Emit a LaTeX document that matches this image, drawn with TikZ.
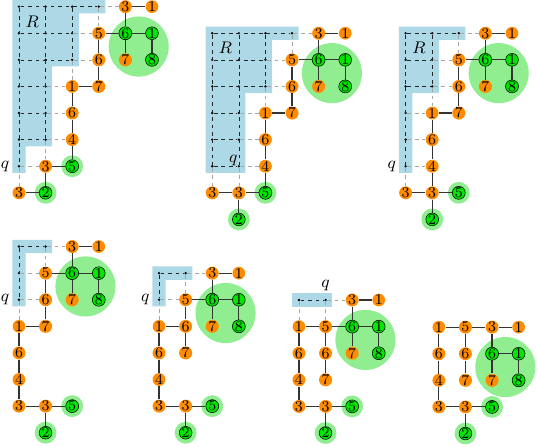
\documentclass[tikz,border=0pt]{standalone}
\usepackage{tikz}
\definecolor{vorange}{RGB}{255,140,0}
\definecolor{vgreen}{RGB}{0,230,0}
\definecolor{halo}{RGB}{144,238,144}
\definecolor{regblue}{RGB}{173,216,230}

\begin{document}
\begin{tikzpicture}[x=.5cm,y=-.5cm,font=\footnotesize]
\tikzset{ov/.style={circle,fill=vorange,inner sep=0,minimum size=6.3pt},
 gv/.style={circle,draw=black,line width=.3pt,fill=vgreen,inner sep=0,minimum size=6.3pt},
 gdot/.style={circle,fill=black,inner sep=0,minimum size=1.4pt},
 treeedge/.style={line width=.6pt,black!80},
 gridline/.style={dash pattern=on 2pt off 2pt,line width=.35pt,black!85},
 linkline/.style={dash pattern=on 2pt off 2pt,line width=.35pt,black!35},
 lab/.style={inner sep=0,font=\small}}
\useasboundingbox (0,0) rectangle (20.19,16.77);

% step 1
\begin{scope}[shift={(.714,.25)},name prefix=a-]
\fill[regblue] (-.25,-.25) -| (3.25,.25) -| (2.25,2.25) -| (1.25,5.25) -| (.25,6.25) -- (-.25,6.25) -- cycle;
\fill[halo] (4.5,1.5) circle (1.13) (2,6) circle (.41) (1,7) circle (.41);
\foreach \x/\y in {0/0,1/0,2/0,3/0,0/1,1/1,2/1,0/2,1/2,2/2,0/3,1/3,0/4,1/4,0/5,1/5,0/6}
 \node[gdot] (d\x\y) at (\x,\y) {};
\foreach \n/\t/\x/\y/\s in {t3/3/4/0/ov,t1/1/5/0/ov,v5/5/3/1/ov,g6/6/4/1/gv,g1/1/5/1/gv,v6/6/3/2/ov,w7/7/4/2/ov,g8/8/5/2/gv,
 u1/1/2/3/ov,u7/7/3/3/ov,u6/6/2/4/ov,u4/4/2/5/ov,c3/3/1/6/ov,g5/5/2/6/gv,b3/3/0/7/ov,g2/2/1/7/gv}
 \node[\s] (\n) at (\x,\y) {\t};
\draw[gridline] (d00)--(d30) (d01)--(d21) (d02)--(d22) (d03)--(d13) (d04)--(d14) (d05)--(d15)
 (d00)--(d06) (d10)--(d15) (d20)--(d22);
\draw[linkline] (d30)--(t3) (d21)--(v5) (d22)--(v6) (d13)--(u1) (d14)--(u6) (d15)--(u4)
 (d06)--(c3) (d06)--(b3) (d15)--(c3) (d22)--(u1) (d30)--(v5);
\draw[treeedge] \foreach \a/\b in {t3/t1,t3/g6,v5/g6,g6/g1,g6/w7,g1/g8,v5/v6,v6/u7,u7/u1,u1/u6,u6/u4,u4/g5,g5/c3,c3/g2,g2/b3}{(\a)--(\b)};
\node[lab] (r) at (.5,.55) {$R$};
\node[lab,left=5pt] (q) at (d06) {$q$};
\end{scope}

% step 2
\begin{scope}[shift={(7.98,1.25)},name prefix=b-]
\fill[regblue] (-.25,-.25) -| (3.25,.25) -| (2.25,2.25) -| (1.25,5.25) -- (-.25,5.25) -- cycle;
\fill[halo] (4.5,1.5) circle (1.13) (2,6) circle (.41) (1,7) circle (.41);
\foreach \x/\y in {0/0,1/0,2/0,3/0,0/1,1/1,2/1,0/2,1/2,2/2,0/3,1/3,0/4,1/4,0/5,1/5}
 \node[gdot] (d\x\y) at (\x,\y) {};
\foreach \n/\t/\x/\y/\s in {t3/3/4/0/ov,t1/1/5/0/ov,v5/5/3/1/ov,g6/6/4/1/gv,g1/1/5/1/gv,v6/6/3/2/ov,w7/7/4/2/ov,g8/8/5/2/gv,
 u1/1/2/3/ov,u7/7/3/3/ov,u6/6/2/4/ov,u4/4/2/5/ov,b3/3/0/6/ov,c3/3/1/6/ov,g5/5/2/6/gv,g2/2/1/7/gv}
 \node[\s] (\n) at (\x,\y) {\t};
\draw[gridline] (d00)--(d30) (d01)--(d21) (d02)--(d22) (d03)--(d13) (d04)--(d14) (d05)--(d15)
 (d00)--(d05) (d10)--(d15) (d20)--(d22);
\draw[linkline] (d30)--(t3) (d21)--(v5) (d22)--(v6) (d13)--(u1) (d14)--(u6) (d15)--(u4)
 (d05)--(b3) (d15)--(c3) (d22)--(u1) (d30)--(v5);
\draw[treeedge] \foreach \a/\b in {t3/t1,t3/g6,v5/g6,g6/g1,g6/w7,g1/g8,v5/v6,v6/u7,u7/u1,u1/u6,u6/u4,u4/g5,g5/c3,c3/b3,c3/g2}{(\a)--(\b)};
\node[lab] (r) at (.5,.55) {$R$};
\node[lab,xshift=-3pt,yshift=3pt] (q) at (d15) {$q$};
\end{scope}

% step 3
\begin{scope}[shift={(15.25,1.25)},name prefix=c-]
\fill[regblue] (-.25,-.25) -| (2.25,.25) -| (1.25,2.25) -| (.25,5.25) -- (-.25,5.25) -- cycle;
\fill[halo] (3.5,1.5) circle (1.13) (2,6) circle (.41) (1,7) circle (.41);
\foreach \x/\y in {0/0,1/0,2/0,0/1,1/1,0/2,1/2,0/3,0/4,0/5}
 \node[gdot] (d\x\y) at (\x,\y) {};
\foreach \n/\t/\x/\y/\s in {t3/3/3/0/ov,t1/1/4/0/ov,v5/5/2/1/ov,g6/6/3/1/gv,g1/1/4/1/gv,v6/6/2/2/ov,w7/7/3/2/ov,g8/8/4/2/gv,
 u1/1/1/3/ov,u7/7/2/3/ov,u6/6/1/4/ov,u4/4/1/5/ov,b3/3/0/6/ov,c3/3/1/6/ov,g5/5/2/6/gv,g2/2/1/7/gv}
 \node[\s] (\n) at (\x,\y) {\t};
\draw[gridline] (d00)--(d20) (d01)--(d11) (d02)--(d12) (d00)--(d05) (d10)--(d12);
\draw[linkline] (d20)--(t3) (d11)--(v5) (d12)--(v6) (d03)--(u1) (d04)--(u6) (d05)--(u4)
 (d05)--(b3) (d12)--(u1) (d20)--(v5);
\draw[treeedge] \foreach \a/\b in {t3/t1,t3/g6,v5/g6,g6/g1,g6/w7,g1/g8,v5/v6,v6/u7,u7/u1,u1/u6,u6/u4,u4/c3,c3/b3,c3/g5,c3/g2}{(\a)--(\b)};
\node[lab] (r) at (.5,.55) {$R$};
\node[lab,left=5pt] (q) at (d05) {$q$};
\end{scope}

% step 4
\begin{scope}[shift={(.714,9.27)},name prefix=d-]
\fill[regblue] (-.25,-.25) -| (1.25,.25) -| (.25,2.25) -- (-.25,2.25) -- cycle;
\fill[halo] (2.5,1.5) circle (1.13) (2,6) circle (.41) (1,7) circle (.41);
\foreach \x/\y in {0/0,1/0,0/1,0/2}
 \node[gdot] (d\x\y) at (\x,\y) {};
\foreach \n/\t/\x/\y/\s in {t3/3/2/0/ov,t1/1/3/0/ov,v5/5/1/1/ov,g6/6/2/1/gv,g1/1/3/1/gv,v6/6/1/2/ov,w7/7/2/2/ov,g8/8/3/2/gv,
 u1/1/0/3/ov,u7/7/1/3/ov,u6/6/0/4/ov,u4/4/0/5/ov,b3/3/0/6/ov,c3/3/1/6/ov,g5/5/2/6/gv,g2/2/1/7/gv}
 \node[\s] (\n) at (\x,\y) {\t};
\draw[gridline] (d00)--(d10) (d00)--(d02);
\draw[linkline] (d10)--(t3) (d01)--(v5) (d02)--(v6) (d02)--(u1) (d10)--(v5);
\draw[treeedge] \foreach \a/\b in {t3/t1,t3/g6,v5/g6,g6/g1,g6/w7,g1/g8,v5/v6,v6/u7,u7/u1,u1/u6,u6/u4,u4/b3,b3/c3,c3/g5,c3/g2}{(\a)--(\b)};
\node[lab,left=5pt] (q) at (d02) {$q$};
\end{scope}

% step 5
\begin{scope}[shift={(5.98,10.27)},name prefix=e-]
\fill[regblue] (-.25,-.25) -| (1.25,.25) -| (.25,1.25) -- (-.25,1.25) -- cycle;
\fill[halo] (2.5,1.5) circle (1.13) (2,5) circle (.41) (1,6) circle (.41);
\foreach \x/\y in {0/0,1/0,0/1}
 \node[gdot] (d\x\y) at (\x,\y) {};
\foreach \n/\t/\x/\y/\s in {t3/3/2/0/ov,t1/1/3/0/ov,v5/5/1/1/ov,g6/6/2/1/gv,g1/1/3/1/gv,u1/1/0/2/ov,v6/6/1/2/ov,w7/7/2/2/ov,g8/8/3/2/gv,
 u6/6/0/3/ov,u7/7/1/3/ov,u4/4/0/4/ov,b3/3/0/5/ov,c3/3/1/5/ov,g5/5/2/5/gv,g2/2/1/6/gv}
 \node[\s] (\n) at (\x,\y) {\t};
\draw[gridline] (d00)--(d10) (d00)--(d01);
\draw[linkline] (d10)--(t3) (d01)--(v5) (d01)--(u1) (d10)--(v5);
\draw[treeedge] \foreach \a/\b in {t3/t1,t3/g6,v5/g6,g6/g1,g6/w7,g1/g8,v5/v6,v6/u1,v6/u7,u1/u6,u6/u4,u4/b3,b3/c3,c3/g5,c3/g2}{(\a)--(\b)};
\node[lab,left=5pt] (q) at (d01) {$q$};
\end{scope}

% step 6
\begin{scope}[shift={(11.24,11.28)},name prefix=f-]
\fill[regblue] (-.25,-.25) rectangle (1.25,.25);
\fill[halo] (2.5,1.5) circle (1.13) (2,4) circle (.41) (1,5) circle (.41);
\foreach \x/\y in {0/0,1/0}
 \node[gdot] (d\x\y) at (\x,\y) {};
\foreach \n/\t/\x/\y/\s in {t3/3/2/0/ov,t1/1/3/0/ov,u1/1/0/1/ov,v5/5/1/1/ov,g6/6/2/1/gv,g1/1/3/1/gv,u6/6/0/2/ov,v6/6/1/2/ov,w7/7/2/2/ov,g8/8/3/2/gv,
 u4/4/0/3/ov,u7/7/1/3/ov,b3/3/0/4/ov,c3/3/1/4/ov,g5/5/2/4/gv,g2/2/1/5/gv}
 \node[\s] (\n) at (\x,\y) {\t};
\draw[gridline] (d00)--(d10);
\draw[linkline] (d10)--(t3) (d00)--(u1) (d10)--(v5);
\draw[treeedge] \foreach \a/\b in {t3/t1,t3/g6,u1/v5,v5/g6,g6/g1,g6/w7,g1/g8,u1/u6,v5/v6,v6/u7,u6/u4,u4/b3,b3/c3,c3/g5,c3/g2}{(\a)--(\b)};
\node[lab,above=5pt] (q) at (d10) {$q$};
\end{scope}

% step 7
\begin{scope}[shift={(16.5,12.3)},name prefix=g-]
\fill[halo] (2.5,1.5) circle (1.13) (2,3) circle (.41) (1,4) circle (.41);
\foreach \n/\t/\x/\y/\s in {u1/1/0/0/ov,v5/5/1/0/ov,t3/3/2/0/ov,t1/1/3/0/ov,u6/6/0/1/ov,v6/6/1/1/ov,g6/6/2/1/gv,g1/1/3/1/gv,
 u4/4/0/2/ov,u7/7/1/2/ov,w7/7/2/2/ov,g8/8/3/2/gv,b3/3/0/3/ov,c3/3/1/3/ov,g5/5/2/3/gv,g2/2/1/4/gv}
 \node[\s] (\n) at (\x,\y) {\t};
\draw[treeedge] \foreach \a/\b in {u1/v5,v5/t3,t3/t1,t3/g6,g6/g1,g6/w7,g1/g8,u1/u6,u6/u4,u4/b3,b3/c3,v5/v6,v6/u7,c3/g5,c3/g2}{(\a)--(\b)};
\end{scope}
\end{tikzpicture}
\end{document}
